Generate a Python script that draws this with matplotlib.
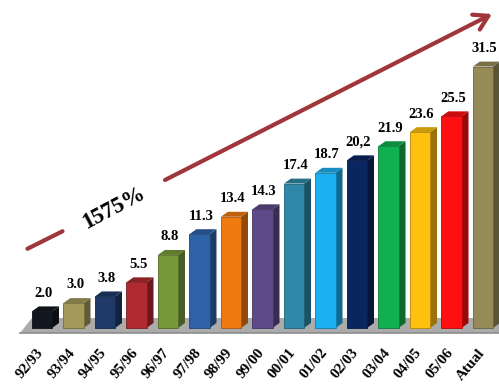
import matplotlib.pyplot as plt
from matplotlib.patches import Polygon
from matplotlib.colors import to_rgb
from matplotlib.transforms import ScaledTranslation

# Values
periods = ['92/93', '93/94', '94/95', '95/96', '96/97', '97/98', '98/99', '99/00',
           '00/01', '01/02', '02/03', '03/04', '04/05', '05/06', 'Atual']
values = [2.0, 3.0, 3.8, 5.5, 8.8, 11.3, 13.4, 14.3, 17.4, 18.7, 20.2, 21.9, 23.6, 25.5, 31.5]
value_labels = ['2.0', '3.0', '3.8', '5.5', '8.8', '11.3', '13.4', '14.3',
                '17.4', '18.7', '20,2', '21.9', '23.6', '25.5', '31.5']
colors = ['#121820', '#a39a5a', '#1f3a68', '#b02a30', '#78993a', '#2e62a8', '#f07a10', '#5e4a88',
          '#2e89a8', '#1bb0f0', '#0a2660', '#10b050', '#ffc010', '#ff1010', '#968b58']
growth_label = '1575%'

W, H = 499, 385
SERIF = ['Liberation Serif', 'DejaVu Serif']
ARROW = '#a0353a'


def shade(c, k):
    r, g, b = to_rgb(c)
    return (r * k, g * k, b * k)


def do_plot():
    fig = plt.figure(figsize=(W / 100, H / 100), dpi=100)
    ax = fig.add_axes([0, 43 / H, 1, 342 / H])
    ax.set_xlim(-1.333, 14.508)
    ax.set_ylim(-1.69, 39.52)
    for s in ax.spines.values():
        s.set_visible(False)
    ax.set_yticks([])

    # floor
    floor = Polygon([(-0.70, -0.6), (15.5, -0.6), (15.5, 1.2), (-0.32, 1.2)],
                    closed=True, fc='#ababab', ec='none', zorder=1, clip_on=False)
    ax.add_patch(floor)
    ax.plot([-0.70, 15.5], [-0.6, -0.6], color='#8c8c8c', lw=1.2, zorder=1.5)

    width, dx, dy = 0.64, 0.22, 0.6
    xs = list(range(len(values)))
    ax.bar(xs, values, width=width, color=colors, edgecolor=[shade(c, 0.7) for c in colors],
           linewidth=0.6, zorder=3)
    for x, v, c in zip(xs, values, colors):
        l, r = x - width / 2, x + width / 2
        side = Polygon([(r, 0), (r + dx, dy), (r + dx, v + dy), (r, v)],
                       closed=True, fc=shade(c, 0.6), ec='none', zorder=2.5)
        top = Polygon([(l, v), (r, v), (r + dx, v + dy), (l + dx, v + dy)],
                      closed=True, fc=shade(c, 0.8), ec='none', zorder=2.5)
        ax.add_patch(side)
        ax.add_patch(top)

    for x, v, lab in zip(xs, values, value_labels):
        ax.text(x + 0.05, v + dy + 0.8, lab, ha='center', va='bottom',
                family=SERIF, weight='bold', size=10.5, zorder=4)

    ax.set_xticks(xs)
    ax.set_xticklabels(periods, rotation=50, ha='right', va='top', rotation_mode='anchor',
                       family=SERIF, weight='bold', size=11)
    ax.tick_params(axis='x', length=0, pad=3)
    shift = ScaledTranslation(-4 / 72, 0, fig.dpi_scale_trans)
    for t in ax.get_xticklabels():
        t.set_transform(t.get_transform() + shift)

    # growth arrow with gap for the label
    def ff(px, py):
        return (px / W, (H - py) / H)

    ax.annotate('', xy=ff(65, 230), xytext=ff(25, 250), xycoords='figure fraction',
                textcoords='figure fraction',
                arrowprops=dict(arrowstyle='-', lw=3, color=ARROW))
    ax.annotate('', xy=ff(492, 14), xytext=ff(165, 180), xycoords='figure fraction',
                textcoords='figure fraction',
                arrowprops=dict(arrowstyle='->,head_length=1.0,head_width=0.6', lw=3,
                                color=ARROW, shrinkA=0, shrinkB=0))
    fig.text(114 / W, (H - 208) / H, growth_label, rotation=28, ha='center', va='center',
             family=SERIF, weight='bold', size=16.5)

    fig.savefig('out.png', dpi=100)


if __name__ == '__main__':
    do_plot()
